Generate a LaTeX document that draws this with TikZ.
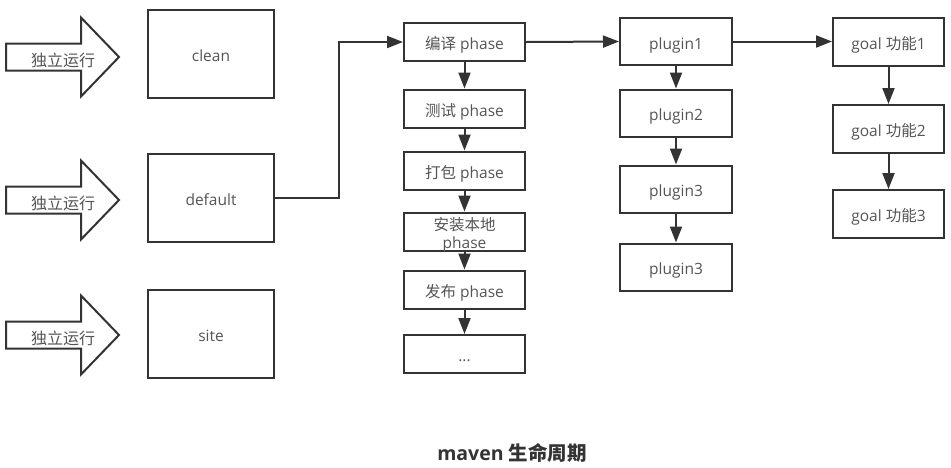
\documentclass[tikz,border=0pt]{standalone}
\usepackage{fontspec}
\setmainfont{Open Sans}
\newfontfamily\cjk{Noto Sans CJK SC}
\usetikzlibrary{arrows.meta}
\definecolor{linec}{HTML}{333333}
\definecolor{textc}{HTML}{555555}
\definecolor{titlec}{HTML}{333333}
\tikzset{
  box/.style={draw=linec, line width=2pt, fill=white, inner sep=0pt, anchor=center,
    font=\fontsize{15.5}{19}\selectfont, text=textc, align=center,
    text height=15pt, text depth=0pt},
  conn/.style={draw=linec, line width=2pt, -{Triangle[length=16pt,width=12pt]}},
  blockarrow/.style={draw=linec, line width=2pt, fill=white, line join=miter},
  arrowtext/.style={font=\cjk\fontsize{16}{19}\selectfont, text=textc, inner sep=0pt},
  boxtext/.style={font=\fontsize{15.5}{19}\selectfont, text=textc, align=center, inner sep=0pt},
}
\begin{document}
\begin{tikzpicture}[x=1pt,y=-1pt]
\useasboundingbox (0,0) rectangle (951,467);
% block arrows
\foreach \cy/\nm in {57/a1,200/a2,335/a3}{
  \draw[blockarrow] (6,\cy-13.5) -- (81,\cy-13.5) -- (81,\cy-39.5) -- (119,\cy)
     -- (81,\cy+39.5) -- (81,\cy+13.5) -- (6,\cy+13.5) -- cycle;
  \node[arrowtext] (\nm) at (63,\cy+3.5) {独立运行};
}
% lifecycle boxes
\node[box, minimum width=126pt, minimum height=88pt] (clean) at (211,54) {clean};
\node[box, minimum width=126pt, minimum height=88pt] (default) at (211,197.5) {default};
\node[box, minimum width=126pt, minimum height=88pt] (site) at (211,333.5) {site};
% phases
\tikzset{phase/.style={box, minimum width=121pt, minimum height=38pt}}
\node[phase] (p1) at (464.5,42) {{\cjk 编译} phase};
\node[phase] (p2) at (464.5,108.5) {{\cjk 测试} phase};
\node[phase] (p3) at (464.5,170.5) {{\cjk 打包} phase};
\node[phase, text height=0pt, label={[boxtext, yshift=-3.5pt]center:{\cjk 安装本地}\\[-1pt]phase}] (p4) at (464.5,231.5) {};
\node[phase] (p5) at (464.5,289.5) {{\cjk 发布} phase};
\node[phase] (p6) at (464.5,354) {...};
% plugins
\tikzset{plug/.style={box, minimum width=112pt, minimum height=47pt}}
\node[plug] (g1) at (676,41.5) {plugin1};
\node[plug] (g2) at (676,113) {plugin2};
\node[plug] (g3) at (676,189) {plugin3};
\node[plug] (g4) at (676,267) {plugin3};
% goals
\tikzset{goal/.style={box, minimum width=111pt, minimum height=48pt}}
\node[goal] (o1) at (888.5,42) {goal {\cjk 功能}1};
\node[goal] (o2) at (888.5,129) {goal {\cjk 功能}2};
\node[goal] (o3) at (888.5,214) {goal {\cjk 功能}3};
% connectors
\coordinate (bend) at (339,197.5);
\draw[conn] (default.east) -- (bend) |- (p1.west);
\draw[conn] (p1.east) -- (g1.west);
\draw[conn] (g1.east) -- (o1.west |- g1.east);
\draw[conn] (p1) -- (p2);
\draw[conn] (p2) -- (p3);
\draw[conn] (p3) -- (p4);
\draw[conn] (p4) -- (p5);
\draw[conn] (p5) -- (p6);
\draw[conn] (g1) -- (g2);
\draw[conn] (g2) -- (g3);
\draw[conn] (g3) -- (g4);
\draw[conn] (o1) -- (o2);
\draw[conn] (o2) -- (o3);
% title
\node[font=\fontsize{19.5}{23}\selectfont\bfseries, text=titlec, inner sep=0pt] (title) at (512,453) {maven {\cjk\bfseries 生命周期}};
\end{tikzpicture}
\end{document}
